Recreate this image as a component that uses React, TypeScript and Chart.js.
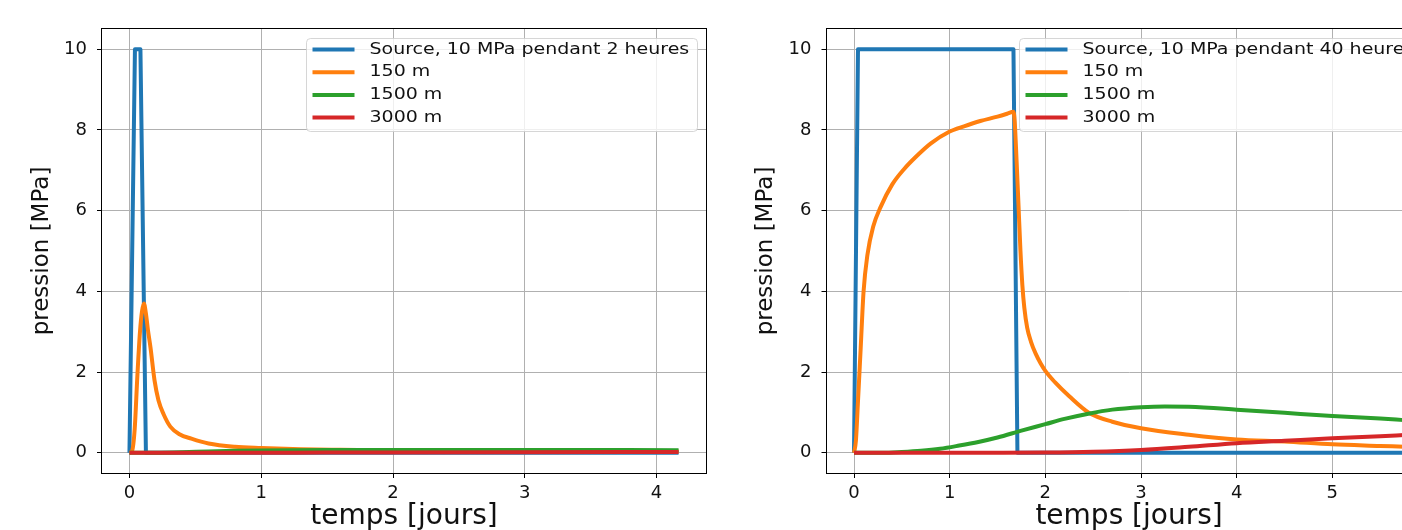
import React, { useEffect, useRef } from "react";
import { Chart, registerables } from "chart.js";

Chart.register(...registerables);

// ---------- data (time in days, pressure in MPa) ----------
// Left panel: source 10 MPa during 2 hours
const shortSourceT = [0, 0.0417, 0.0833, 0.125, 4.1667];
const shortSourceP = [0, 10, 10, 0, 0];
const short150T = [0, 0.02, 0.04, 0.06, 0.08, 0.095, 0.11, 0.125, 0.14, 0.16, 0.19, 0.22, 0.26, 0.31, 0.38, 0.47, 0.6, 0.8, 1.0, 1.3, 1.6, 2.0, 3.0, 4.1667];
const short150P = [0, 0.05, 0.6, 1.9, 3.0, 3.5, 3.7, 3.45, 3.05, 2.6, 1.8, 1.3, 0.95, 0.65, 0.46, 0.35, 0.23, 0.15, 0.12, 0.09, 0.075, 0.06, 0.045, 0.04];
const short1500T = [0, 0.2, 0.4, 0.6, 0.8, 1.0, 1.5, 2.0, 3.0, 4.1667];
const short1500P = [0, 0.002, 0.015, 0.035, 0.05, 0.06, 0.07, 0.072, 0.07, 0.066];
const short3000T = [0, 0.5, 1.0, 1.5, 2.0, 3.0, 4.1667];
const short3000P = [0, 0, 0.002, 0.006, 0.01, 0.016, 0.02];

// Right panel: source 10 MPa during 40 hours
const longSourceT = [0, 0.0417, 1.6667, 1.7083, 5.75];
const longSourceP = [0, 10, 10, 0, 0];
const long150T = [0, 0.02, 0.04, 0.07, 0.1, 0.14, 0.2, 0.28, 0.4, 0.52, 0.65, 0.8, 1.0, 1.15, 1.32, 1.5, 1.6, 1.6667, 1.68, 1.7, 1.72, 1.74, 1.76, 1.78, 1.81, 1.85, 1.9, 1.95, 2.0, 2.1, 2.25, 2.45, 2.7, 3.0, 3.5, 4.0, 4.5, 5.0, 5.5, 5.75];
const long150P = [0, 0.3, 1.2, 2.6, 4.0, 4.9, 5.6, 6.1, 6.65, 7.02, 7.34, 7.66, 7.96, 8.09, 8.22, 8.33, 8.4, 8.45, 8.2, 7.2, 6.1, 5.0, 4.15, 3.6, 3.1, 2.75, 2.45, 2.22, 2.03, 1.75, 1.4, 1.0, 0.77, 0.61, 0.45, 0.33, 0.28, 0.21, 0.17, 0.15];
const long1500T = [0, 0.3, 0.5, 0.7, 0.9, 1.1, 1.3, 1.5, 1.75, 2.0, 2.2, 2.45, 2.7, 3.0, 3.25, 3.5, 4.0, 4.5, 5.0, 5.5, 5.75];
const long1500P = [0, 0, 0.02, 0.05, 0.1, 0.18, 0.27, 0.38, 0.55, 0.71, 0.84, 0.97, 1.07, 1.13, 1.15, 1.14, 1.07, 0.99, 0.91, 0.85, 0.81];
const long3000T = [0, 1.5, 2.0, 2.5, 3.0, 3.5, 4.0, 4.5, 5.0, 5.5, 5.75];
const long3000P = [0, 0, 0.005, 0.025, 0.07, 0.15, 0.24, 0.3, 0.36, 0.41, 0.44];

const shortLabels = ["Source, 10 MPa pendant 2 heures", "150 m", "1500 m", "3000 m"];
const longLabels = ["Source, 10 MPa pendant 40 heures", "150 m", "1500 m", "3000 m"];
const seriesColors = ["#1f77b4", "#ff7f0e", "#2ca02c", "#d62728"];

const yMin = -0.5;
const yMax = 10.5;
const xTitle = "temps [jours]";
const yTitle = "pression [MPa]";

const FONT = '"DejaVu Sans", sans-serif';

function pts(t: number[], v: number[]) {
  return t.map((x, i) => ({ x, y: v[i] }));
}

function mplPlugin(labels: string[]) {
  return {
    id: "mplDecor",
    afterDatasetsDraw(chart: any) {
      const { ctx, chartArea } = chart;
      ctx.save();
      ctx.strokeStyle = "#000";
      ctx.lineWidth = 1;
      const l = Math.round(chartArea.left) - 0.5;
      const t = Math.round(chartArea.top) - 0.5;
      const r = Math.round(chartArea.right) + 0.5;
      const b = Math.round(chartArea.bottom) + 0.5;
      ctx.strokeRect(l, t, r - l, b - t);
      ctx.restore();
    },
    afterDraw(chart: any) {
      const { ctx, chartArea } = chart;
      const fs = 16.5;
      const sx = 1.15;
      ctx.save();
      ctx.font = `${fs}px ${FONT}`;
      const tw = Math.max(...labels.map((s) => ctx.measureText(s).width)) * sx;
      const right = Math.round(chartArea.right - 9.5) + 0.5;
      const boxW = 63.3 + tw + 8;
      const left = Math.round(right - boxW) + 0.5;
      const top = Math.round(chartArea.top + 8.5) + 0.5;
      const h = 93;
      ctx.beginPath();
      ctx.roundRect(left, top, right - left, h, 4);
      ctx.fillStyle = "rgba(255,255,255,0.8)";
      ctx.fill();
      ctx.strokeStyle = "rgba(204,204,204,0.8)";
      ctx.lineWidth = 1;
      ctx.stroke();
      labels.forEach((lab, i) => {
        const y = top + 11 + i * 22.7;
        ctx.strokeStyle = seriesColors[i];
        ctx.lineWidth = 4;
        ctx.lineCap = "butt";
        ctx.beginPath();
        ctx.moveTo(left + 6, y);
        ctx.lineTo(left + 48, y);
        ctx.stroke();
        ctx.save();
        ctx.translate(left + 63, y);
        ctx.scale(sx, 1);
        ctx.fillStyle = "#111";
        ctx.textBaseline = "middle";
        ctx.textAlign = "left";
        ctx.fillText(lab, 0, 0);
        ctx.restore();
      });
      ctx.restore();
    },
  };
}

type PanelProps = {
  left: number;
  width: number;
  yAxisWidth: number;
  rightPad: number;
  xMin: number;
  xMax: number;
  yTitlePad: number;
  labels: string[];
  series: { t: number[]; v: number[] }[];
};

function Panel(p: PanelProps) {
  const ref = useRef<HTMLCanvasElement | null>(null);
  useEffect(() => {
    if (!ref.current) return;
    const n = p.series.length;
    const chart = new Chart(ref.current, {
      type: "line",
      data: {
        datasets: p.series.map((s, i) => ({
          label: p.labels[i],
          data: pts(s.t, s.v),
          borderColor: seriesColors[i],
          backgroundColor: seriesColors[i],
          borderWidth: 4,
          pointRadius: 0,
          borderJoinStyle: "round",
          borderCapStyle: "butt",
          tension: 0,
          cubicInterpolationMode: i === 0 ? "default" : "monotone",
          fill: false,
          order: n - 1 - i,
        })),
      },
      options: {
        animation: false,
        responsive: false,
        devicePixelRatio: 1,
        layout: { padding: { top: 29, right: p.rightPad, bottom: 0, left: 0 } },
        plugins: { legend: { display: false }, tooltip: { enabled: false } },
        scales: {
          x: {
            type: "linear",
            min: p.xMin,
            max: p.xMax,
            afterFit: (s: any) => {
              s.height = 57;
            },
            ticks: {
              stepSize: 1,
              includeBounds: false,
              color: "#111",
              font: { family: FONT, size: 18 },
              padding: 5,
              maxRotation: 0,
            },
            grid: { color: "#b0b0b0", lineWidth: 1, drawTicks: true, tickLength: 5, tickColor: "#000" },
            border: { display: false },
            title: {
              display: true,
              text: xTitle,
              color: "#111",
              font: { family: FONT, size: 28, lineHeight: 1 },
              padding: { top: 0, bottom: -1 },
            },
          },
          y: {
            type: "linear",
            min: yMin,
            max: yMax,
            afterFit: (s: any) => {
              s.width = p.yAxisWidth;
            },
            ticks: {
              stepSize: 2,
              includeBounds: false,
              color: "#111",
              font: { family: FONT, size: 18 },
              padding: 10,
            },
            grid: { color: "#b0b0b0", lineWidth: 1, drawTicks: true, tickLength: 5, tickColor: "#000" },
            border: { display: false },
            title: {
              display: true,
              text: yTitle,
              color: "#111",
              font: { family: FONT, size: 23, lineHeight: 1 },
              padding: { top: p.yTitlePad, bottom: 0 },
            },
          },
        },
      },
      plugins: [mplPlugin(p.labels)],
    } as any);
    return () => chart.destroy();
  }, []);
  return (
    <div style={{ position: "absolute", left: p.left, top: 0, width: p.width, height: 530 }}>
      <canvas ref={ref} width={p.width} height={530} style={{ width: p.width, height: 530, display: "block" }} />
    </div>
  );
}

export default function App() {
  return (
    <div
      style={{
        position: "fixed",
        left: 0,
        top: 0,
        width: 1402,
        height: 530,
        overflow: "hidden",
        background: "#fff",
      }}
    >
      <Panel
        left={0}
        width={715}
        yAxisWidth={102}
        rightPad={9}
        xMin={-0.2083}
        xMax={4.375}
        yTitlePad={30.5}
        labels={shortLabels}
        series={[
          { t: shortSourceT, v: shortSourceP },
          { t: short150T, v: short150P },
          { t: short1500T, v: short1500P },
          { t: short3000T, v: short3000P },
        ]}
      />
      <Panel
        left={715}
        width={745}
        yAxisWidth={111.5}
        rightPad={28.4}
        xMin={-0.2875}
        xMax={6.0375}
        yTitlePad={40}
        labels={longLabels}
        series={[
          { t: longSourceT, v: longSourceP },
          { t: long150T, v: long150P },
          { t: long1500T, v: long1500P },
          { t: long3000T, v: long3000P },
        ]}
      />
    </div>
  );
}
